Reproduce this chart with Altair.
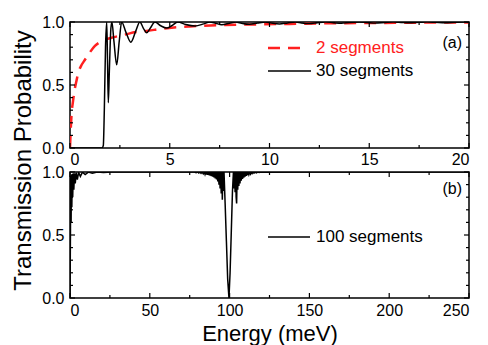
import altair as alt
import pandas as pd

# ---------------- data ----------------
# Panel (a): 2 segments (red dashed)
E_2seg = [0, 0.03, 0.08, 0.15, 0.22, 0.32, 0.42, 0.55, 0.75, 1.0, 1.25, 1.5, 1.75, 2.2, 2.76,
          3.3, 3.92, 4.5, 5.1, 6.0, 7.4, 9.0, 11.0, 13.0, 15.0, 17.5, 20.0]
T_2seg = [0, 0.12, 0.27, 0.37, 0.45, 0.53, 0.60, 0.65, 0.70, 0.76, 0.81, 0.84, 0.86, 0.88, 0.90,
          0.92, 0.93, 0.945, 0.955, 0.965, 0.975, 0.98, 0.985, 0.99, 0.992, 0.995, 0.997]

# Panel (a): 30 segments (black)
E_30seg = [0, 1.6, 1.67, 1.72, 1.78, 1.84, 1.88, 1.92, 1.97, 2.05, 2.1, 2.2, 2.34, 2.47, 2.59,
           2.8, 3.05, 3.3, 3.5, 3.68, 3.84, 4.02, 4.26, 4.55, 4.85, 5.1, 5.4, 5.8, 6.27, 6.7,
           7.0, 7.3, 7.6, 8.0, 8.3, 8.6, 9.0, 9.4, 9.8, 10.1, 10.5, 10.9, 11.3, 11.6, 12.0,
           12.4, 12.8, 13.2, 13.6, 14.0, 14.5, 14.9, 15.3, 15.8, 16.2, 16.6, 17.0, 17.5, 17.9,
           18.3, 18.8, 19.3, 19.7, 20.0]
T_30seg = [0, 0, 0.02, 0.3, 0.8, 1.0, 0.7, 0.36, 0.6, 0.95, 1.0, 0.85, 0.66, 0.85, 1.0,
           0.92, 0.84, 0.93, 1.0, 0.95, 0.915, 0.95, 1.0, 0.97, 0.952, 0.97, 1.0, 0.98, 0.968, 0.985,
           1.0, 0.99, 0.978, 0.99, 1.0, 0.99, 0.982, 0.992, 1.0, 0.992, 0.985, 0.993, 1.0, 0.993, 0.988,
           0.995, 1.0, 0.995, 0.99, 0.996, 1.0, 0.996, 0.992, 0.997, 1.0, 0.997, 0.994, 0.998, 1.0,
           0.998, 0.995, 0.998, 1.0, 0.999]

# Panel (b): 100 segments (black)
E_100seg = [0, 0.3, 0.45, 0.7, 0.9, 1.15, 1.4, 1.7, 2.0, 2.4, 2.8, 3.3, 3.9, 4.6, 5.4, 6.5, 7.8,
            9.5, 11.5, 14, 17, 21, 26, 40, 60,
            78, 79, 80, 80.7, 81.4, 82.1, 82.8, 83.5, 84.2, 84.6, 85.0, 85.4, 85.8, 86.2, 86.6,
            87.0, 87.4, 87.8, 88.2, 88.6, 89.0, 89.4, 89.8, 90.2, 90.6, 91.0, 91.4, 91.8, 92.2,
            92.6, 93.0, 93.35, 93.7, 94.05, 94.4, 94.75, 95.1, 95.45, 95.8, 96.15, 96.5,
            97.2, 98.0, 98.8, 99.6, 100.3, 101.0, 101.8, 102.4,
            102.75, 103.1, 103.45, 103.8, 104.1, 104.4, 104.75, 105.1, 105.45, 105.8, 106.15,
            106.5, 106.9, 107.3, 107.7, 108.1, 108.5, 108.9, 109.3, 109.7, 110.1, 110.5, 110.9,
            111.3, 111.7, 112.1, 112.6, 113.1, 113.6, 114.1, 114.7, 115.3, 116.0, 116.8, 117.6,
            118.5, 119.5, 121, 150, 200, 250]
T_100seg = [0, 0.55, 0.97, 0.6, 0.98, 0.72, 0.985, 0.8, 0.99, 0.86, 0.99, 0.91, 0.995, 0.94, 0.997,
            0.965, 0.998, 0.98, 0.999, 0.99, 1.0, 0.996, 1.0, 1.0, 1.0,
            1.0, 0.995, 1.0, 0.992, 1.0, 0.99, 1.0, 0.985, 1.0, 0.982, 1.0, 0.98, 1.0, 0.977, 1.0,
            0.975, 1.0, 0.972, 1.0, 0.968, 1.0, 0.963, 1.0, 0.957, 1.0, 0.95, 1.0, 0.94, 1.0,
            0.925, 1.0, 0.9, 1.0, 0.87, 1.0, 0.83, 1.0, 0.78, 1.0, 0.85, 1.0,
            0.75, 0.45, 0.15, 0.0, 0.2, 0.5, 0.85, 1.0,
            0.87, 1.0, 0.84, 1.0, 0.8, 0.75, 1.0, 0.86, 1.0, 0.89, 1.0,
            0.91, 1.0, 0.93, 1.0, 0.945, 1.0, 0.955, 1.0, 0.963, 1.0, 0.97, 1.0,
            0.976, 1.0, 0.98, 1.0, 0.984, 1.0, 0.988, 1.0, 0.991, 1.0, 0.994, 1.0,
            0.996, 1.0, 0.998, 1.0, 1.0, 1.0]

# axis ticks / labels
xa_major = [0, 5, 10, 15, 20]
xa_minor = [2.5, 7.5, 12.5, 17.5]
xb_major = [0, 50, 100, 150, 200, 250]
xb_minor = [25, 75, 125, 175, 225]
y_major = [0.0, 0.5, 1.0]
y_minor = [0.1, 0.2, 0.3, 0.4, 0.6, 0.7, 0.8, 0.9]

legend_a = ["2 segments", "30 segments"]
legend_b = ["100 segments"]
panel_tags = ["(a)", "(b)"]
y_title = "Transmission Probability"
x_title = "Energy (meV)"

# ---------------- layout constants ----------------
W, H = 399, 126
FONT = "Liberation Sans"
MAJ, MIN = 5, 3


def ticks_layers(xmaj, xmin, ymaj, ymin, xenc, yenc):
    layers = []
    for vals, size in [(xmaj, MAJ), (xmin, MIN)]:
        df = pd.DataFrame({"E": vals})
        base = alt.Chart(df).mark_rule(color="black", strokeWidth=1.2)
        layers.append(base.encode(x=xenc("E"), y=alt.value(H), y2=alt.value(H - size)))
        layers.append(base.encode(x=xenc("E"), y=alt.value(0), y2=alt.value(size)))
    for vals, size in [(ymaj, MAJ), (ymin, MIN)]:
        df = pd.DataFrame({"T": vals})
        base = alt.Chart(df).mark_rule(color="black", strokeWidth=1.2)
        layers.append(base.encode(y=yenc("T"), x=alt.value(0), x2=alt.value(size)))
        layers.append(base.encode(y=yenc("T"), x=alt.value(W), x2=alt.value(W - size)))
    return layers


# ---------- panel (a) ----------
xs_a = alt.Scale(domain=[0, 20], nice=False, zero=False)
ys = alt.Scale(domain=[0, 1], nice=False)

ax_x_a = alt.Axis(values=xa_major, title=None, labelPadding=3, format="d")
ax_y_a = alt.Axis(values=y_major, title=None, format=".1f", labelPadding=6)


def xenc_a(f):
    return alt.X(f, type="quantitative", scale=xs_a, axis=ax_x_a)


def yenc_a(f):
    return alt.Y(f, type="quantitative", scale=ys, axis=ax_y_a)


df_2 = pd.DataFrame({"E": E_2seg, "T": T_2seg})
df_30 = pd.DataFrame({"E": E_30seg, "T": T_30seg})

line_2 = alt.Chart(df_2).mark_line(color="#ff2020", strokeWidth=2.5, strokeDash=[12, 8],
                                   interpolate="monotone", clip=True).encode(
    x=xenc_a("E"), y=yenc_a("T"))
line_30 = alt.Chart(df_30).mark_line(color="black", strokeWidth=1.5, interpolate="monotone",
                                     clip=True).encode(
    x=xenc_a("E"), y=yenc_a("T"))

leg_a_df = pd.DataFrame({"label": legend_a})
leg_a_red_line = alt.Chart(leg_a_df.iloc[[0]]).mark_rule(color="#ff2020", strokeWidth=2.5, strokeDash=[12, 8]).encode(
    x=alt.value(198), x2=alt.value(236), y=alt.value(26))
leg_a_blk_line = alt.Chart(leg_a_df.iloc[[1]]).mark_rule(color="black", strokeWidth=1.5).encode(
    x=alt.value(198), x2=alt.value(241), y=alt.value(49))
leg_a_red_txt = alt.Chart(leg_a_df.iloc[[0]]).mark_text(
    align="left", baseline="middle", font=FONT, fontSize=17, color="#ff2020").encode(
    x=alt.value(246), y=alt.value(26), text="label:N")
leg_a_blk_txt = alt.Chart(leg_a_df.iloc[[1]]).mark_text(
    align="left", baseline="middle", font=FONT, fontSize=17, color="black").encode(
    x=alt.value(246), y=alt.value(49), text="label:N")
tag_a = alt.Chart(pd.DataFrame({"tag": [panel_tags[0]]})).mark_text(
    align="right", baseline="middle", font=FONT, fontSize=16, color="black").encode(
    x=alt.value(392), y=alt.value(21), text="tag:N")

panel_a = alt.layer(
    line_2, line_30,
    *ticks_layers(xa_major, xa_minor, y_major, y_minor, xenc_a, yenc_a),
    leg_a_red_line, leg_a_blk_line, leg_a_red_txt, leg_a_blk_txt, tag_a
).properties(width=W, height=H)

# ---------- panel (b) ----------
xs_b = alt.Scale(domain=[0, 250], nice=False, zero=False)
ax_x_b = alt.Axis(values=xb_major, title=x_title, labelPadding=4, format="d",
                  titleFontSize=22, titleFont=FONT, titleFontWeight="normal",
                  titleY=42, titleBaseline="alphabetic")
ax_y_b = alt.Axis(values=y_major, title=y_title, format=".1f", labelPadding=6,
                  titleFontSize=24, titleFont=FONT, titleFontWeight="normal",
                  titleY=-12, titleX=-40, titleBaseline="alphabetic", titleAngle=270)


def xenc_b(f):
    return alt.X(f, type="quantitative", scale=xs_b, axis=ax_x_b)


def yenc_b(f):
    return alt.Y(f, type="quantitative", scale=ys, axis=ax_y_b)


df_100 = pd.DataFrame({"E": E_100seg, "T": T_100seg})
line_100 = alt.Chart(df_100).mark_line(color="black", strokeWidth=1.5, clip=True).encode(
    x=xenc_b("E"), y=yenc_b("T"))

leg_b_df = pd.DataFrame({"label": legend_b})
leg_b_line = alt.Chart(leg_b_df).mark_rule(color="black", strokeWidth=1.5).encode(
    x=alt.value(198), x2=alt.value(240), y=alt.value(65))
leg_b_txt = alt.Chart(leg_b_df).mark_text(
    align="left", baseline="middle", font=FONT, fontSize=17, color="black").encode(
    x=alt.value(246), y=alt.value(65), text="label:N")
tag_b = alt.Chart(pd.DataFrame({"tag": [panel_tags[1]]})).mark_text(
    align="right", baseline="middle", font=FONT, fontSize=16, color="black").encode(
    x=alt.value(392), y=alt.value(17), text="tag:N")

panel_b = alt.layer(
    line_100,
    *ticks_layers(xb_major, xb_minor, y_major, y_minor, xenc_b, yenc_b),
    leg_b_line, leg_b_txt, tag_b
).properties(width=W, height=H)

chart = alt.vconcat(panel_a, panel_b, spacing=24, bounds="flush").properties(
    background="white",
    padding={"left": 2, "top": 5, "right": 5, "bottom": 5}
).configure_view(
    stroke="black", strokeWidth=1.5
).configure_axis(
    domain=False, ticks=False, grid=False,
    labelFont=FONT, labelFontSize=16, labelColor="black",
    titleColor="black"
)

chart.save("out.html", embed_options={"renderer": "svg", "actions": False})
